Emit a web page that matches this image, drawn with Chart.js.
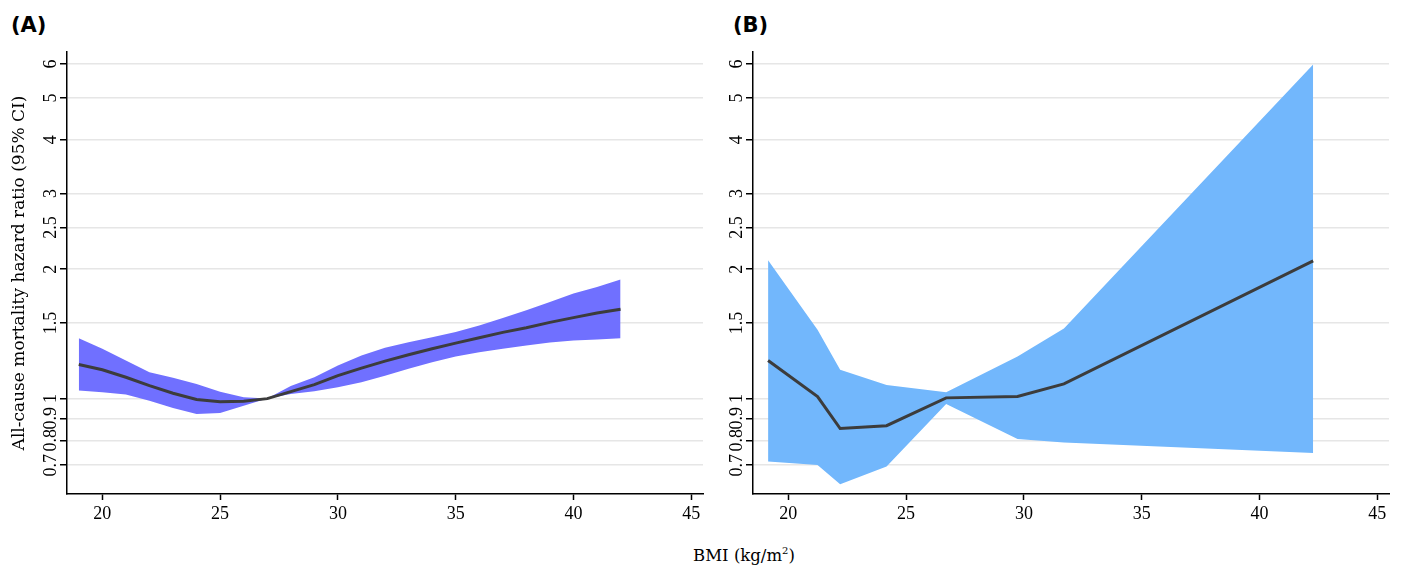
<!DOCTYPE html>
<html><head><meta charset="utf-8">
<script src="https://cdn.jsdelivr.net/npm/chart.js@4.4.0/dist/chart.umd.min.js"></script>
<style>
html,body{margin:0;padding:0;background:#fff;}
body{width:1401px;height:571px;position:relative;overflow:hidden;}
.box{position:absolute;top:0;width:715px;height:530px;}
.lab{position:absolute;font-family:"DejaVu Sans";font-weight:bold;font-size:21px;line-height:24px;color:#000;}
#xt{position:absolute;left:644px;width:200px;top:546px;text-align:center;font-family:"DejaVu Serif";font-size:16.5px;line-height:20px;color:#000;}
#xt sup{font-size:10px;vertical-align:7px;line-height:0;}
</style></head>
<body>
<div class="lab" style="left:11px;top:13px">(A)</div>
<div class="lab" style="left:733px;top:13px">(B)</div>
<div class="box" style="left:0"><canvas id="ca"></canvas></div>
<div class="box" style="left:686px"><canvas id="cb"></canvas></div>
<div id="xt">BMI (kg/m<sup>2</sup>)</div>
<script>
// Panel A: smooth spline estimate
const bmiA = [19,20,21,22,23,24,25,26,27,28,29,30,31,32,33,34,35,36,37,38,39,40,41,42];
const hrA  = [1.200,1.167,1.121,1.072,1.029,0.995,0.984,0.986,1.000,1.038,1.078,1.131,1.177,1.222,1.265,1.306,1.346,1.385,1.426,1.462,1.504,1.543,1.581,1.613];
const upA  = [1.382,1.306,1.227,1.152,1.118,1.082,1.038,1.007,1.000,1.070,1.121,1.194,1.260,1.313,1.353,1.390,1.428,1.480,1.539,1.605,1.678,1.755,1.819,1.892];
const lowA = [1.044,1.034,1.022,0.989,0.951,0.921,0.926,0.963,1.000,1.025,1.040,1.063,1.092,1.131,1.173,1.215,1.253,1.282,1.306,1.329,1.351,1.366,1.373,1.382];
// Panel B: category-based estimate
const bmiB = [19.14,21.24,22.2,24.17,26.7,29.73,31.7,42.28];
const hrB  = [1.227,1.011,0.852,0.865,1.004,1.012,1.082,2.091];
const upB  = [2.099,1.446,1.167,1.076,1.034,1.253,1.455,5.985];
const lowB = [0.714,0.701,0.632,0.695,0.972,0.805,0.791,0.747];
// Axes
const yTicks = [0.7,0.8,0.9,1,1.5,2,2.5,3,4,5,6];
const xTicks = [20,25,30,35,40,45];
const yTitle = 'All-cause mortality hazard ratio (95% CI)';

function makeChart(id, bmi, hr, lo, up, fillColor, showTitle) {
  const pts = arr => bmi.map((x, i) => ({x: x, y: arr[i]}));
  return new Chart(document.getElementById(id), {
    type: 'line',
    data: { datasets: [
      {data: pts(hr), fill: false, borderColor: '#3c3c3c', borderWidth: 3, pointRadius: 0, tension: 0, order: 0},
      {data: pts(up), fill: '+1', backgroundColor: fillColor, borderColor: fillColor, borderWidth: 0, pointRadius: 0, tension: 0, order: 1},
      {data: pts(lo), fill: false, backgroundColor: fillColor, borderColor: fillColor, borderWidth: 0, pointRadius: 0, tension: 0, order: 2}
    ]},
    options: {
      responsive: true, maintainAspectRatio: false, animation: false,
      layout: {padding: {top: 52, right: 12, left: 0, bottom: 0}, autoPadding: false},
      plugins: {legend: {display: false}, tooltip: {enabled: false}},
      scales: {
        x: {
          type: 'linear', min: 18.5, max: 45.5,
          afterBuildTicks: s => { s.ticks = xTicks.map(v => ({value: v})); },
          afterFit: s => { s.height = 36; },
          grid: {drawOnChartArea: false, tickLength: 6, tickColor: '#000', tickWidth: 1.5},
          border: {color: '#000', width: 1.5},
          ticks: {autoSkip: false, maxRotation: 0, font: {family: 'Liberation Serif', size: 18}, color: '#000', padding: 3, callback: v => String(v)}
        },
        y: {
          type: 'logarithmic', min: 0.6, max: 6.4,
          afterBuildTicks: s => { s.ticks = yTicks.map(v => ({value: v})); },
          afterFit: s => { s.width = 67; },
          grid: {color: '#e6e6e6', lineWidth: 1.5, tickLength: 7, tickColor: '#000', tickWidth: 1.5},
          border: {color: '#000', width: 1.5},
          ticks: {autoSkip: false, minRotation: 90, maxRotation: 90, crossAlign: 'center', padding: -3,
                  font: {family: 'Liberation Serif', size: 18}, color: '#000', callback: v => String(v)},
          title: {display: showTitle, text: yTitle, color: '#000', font: {family: 'DejaVu Serif', size: 17}, padding: {top: 9, bottom: 0}}
        }
      }
    }
  });
}
makeChart('ca', bmiA, hrA, lowA, upA, 'rgb(112,112,255)', true);
makeChart('cb', bmiB, hrB, lowB, upB, 'rgb(114,183,252)', false);
</script>
</body></html>
